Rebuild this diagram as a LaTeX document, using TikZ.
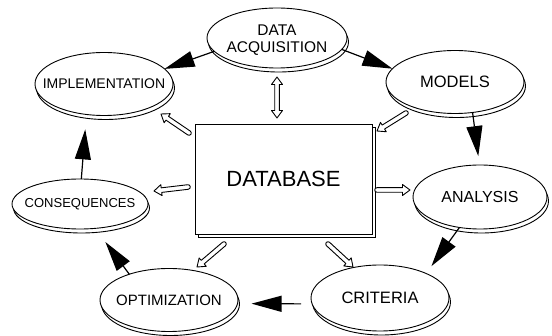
\documentclass[tikz,border=0pt]{standalone}
\usepackage{fontspec}
\setmainfont{Liberation Sans}
\usetikzlibrary{shapes.geometric,shadows,arrows.meta,calc}
\newcommand\setfs[1]{\fontsize{#1}{#1}\selectfont}
\newcommand\hollowarrow[3]{%
  \path let \p1=($(#2)-(#1)$) in \pgfextra{%
    \pgfmathsetmacro\hwang{atan2(\y1,\x1)}%
    \pgfmathsetmacro\hwlen{veclen(\x1,\y1)}%
    \xdef\hwang{\hwang}\xdef\hwlen{\hwlen}};
  \begin{scope}[shift={(#1)},rotate=\hwang]
  \ifnum#3=2
    \draw[hollow] (7.5,-2.3) -- (7.5,-5.5) -- (0,0) -- (7.5,5.5) -- (7.5,2.3) -- (\hwlen-7.5,2.3) -- (\hwlen-7.5,5.5) -- (\hwlen,0) -- (\hwlen-7.5,-5.5) -- (\hwlen-7.5,-2.3) -- cycle;
  \else
    \draw[hollow] (0,-2.3) arc[start angle=-90,end angle=-270,radius=2.3] -- (\hwlen-7.5,2.3) -- (\hwlen-7.5,5.5) -- (\hwlen,0) -- (\hwlen-7.5,-5.5) -- (\hwlen-7.5,-2.3) -- cycle;
  \fi
  \end{scope}}
\begin{document}
\begin{tikzpicture}[x=1pt,y=-1pt,
  disk/.style={ellipse, draw, fill=white, line width=0.9pt, inner sep=0pt, outer sep=0pt,
    copy shadow={shadow xshift=1.5pt, shadow yshift=-4pt}},
  lbl/.style={align=center, inner sep=0pt},
  dbbox/.style={draw, fill=white, line width=0.9pt, inner sep=0pt, outer sep=0pt,
    copy shadow={shadow xshift=3pt, shadow yshift=-3pt}, font=\setfs{22}},
  wedge/.style={line width=1.2pt, -{Triangle[length=30pt,width=16pt]}},
  hollow/.style={draw, fill=white, line width=0.9pt, line join=round}]
\useasboundingbox (0,0) rectangle (552,336);

\node[disk, minimum width=140pt, minimum height=60pt,
  label={[lbl, font=\setfs{15.5}, yshift=-2pt]center:DATA\\[2pt]ACQUISITION}] (dacq) at (277,38) {};
\node[disk, minimum width=138pt, minimum height=63pt,
  label={[lbl, font=\setfs{14}]center:IMPLEMENTATION}] (impl) at (104,84) {};
\node[disk, minimum width=138pt, minimum height=63pt,
  label={[lbl, font=\setfs{16.5}]center:MODELS}] (models) at (455,82) {};
\node[disk, minimum width=136pt, minimum height=50pt,
  label={[lbl, font=\setfs{13}]center:CONSEQUENCES}] (conseq) at (80,204) {};
\node[disk, minimum width=134pt, minimum height=64pt,
  label={[lbl, font=\setfs{16}]center:ANALYSIS}] (analysis) at (480,197) {};
\node[disk, minimum width=138pt, minimum height=63pt,
  label={[lbl, font=\setfs{15}]center:OPTIMIZATION}] (optim) at (169,300) {};
\node[disk, minimum width=138pt, minimum height=66pt,
  label={[lbl, font=\setfs{16.5}]center:CRITERIA}] (crit) at (380,298) {};

\node[dbbox, minimum width=177pt, minimum height=110pt] (db) at (283.5,179) {DATABASE};

% cycle of solid wedge arrows
\draw[wedge] (dacq.192) -- (impl.14);
\draw[wedge] (dacq.-10) -- (models.168);
\draw[wedge, shorten >=9pt] (models.-60) -- (analysis.91);
\draw[wedge, shorten >=9pt] (analysis.236) -- (crit.28);
\draw[wedge, shorten <=11pt, shorten >=14pt] (crit.185) -- (optim.-3);
\draw[wedge, shorten >=17pt] (optim.147) -- (conseq.-58);
\draw[wedge, shorten >=15pt] (conseq.87) -- (impl.240);

% hollow arrows between database and the disks
\coordinate (h1a) at (277,118); \coordinate (h1b) at (277,77);
\coordinate (h2a) at (189,133); \coordinate (h2b) at (161,114);
\coordinate (h3a) at (406,113); \coordinate (h3b) at (377,131);
\coordinate (h4a) at (188,187); \coordinate (h4b) at (154,191);
\coordinate (h5a) at (377,190); \coordinate (h5b) at (410,190);
\coordinate (h6a) at (224,244); \coordinate (h6b) at (197,267);
\coordinate (h7a) at (328,244); \coordinate (h7b) at (353,267);
\hollowarrow{h1a}{h1b}{2}
\hollowarrow{h2a}{h2b}{1}
\hollowarrow{h3a}{h3b}{1}
\hollowarrow{h4a}{h4b}{1}
\hollowarrow{h5a}{h5b}{1}
\hollowarrow{h6a}{h6b}{1}
\hollowarrow{h7a}{h7b}{1}
\end{tikzpicture}
\end{document}
